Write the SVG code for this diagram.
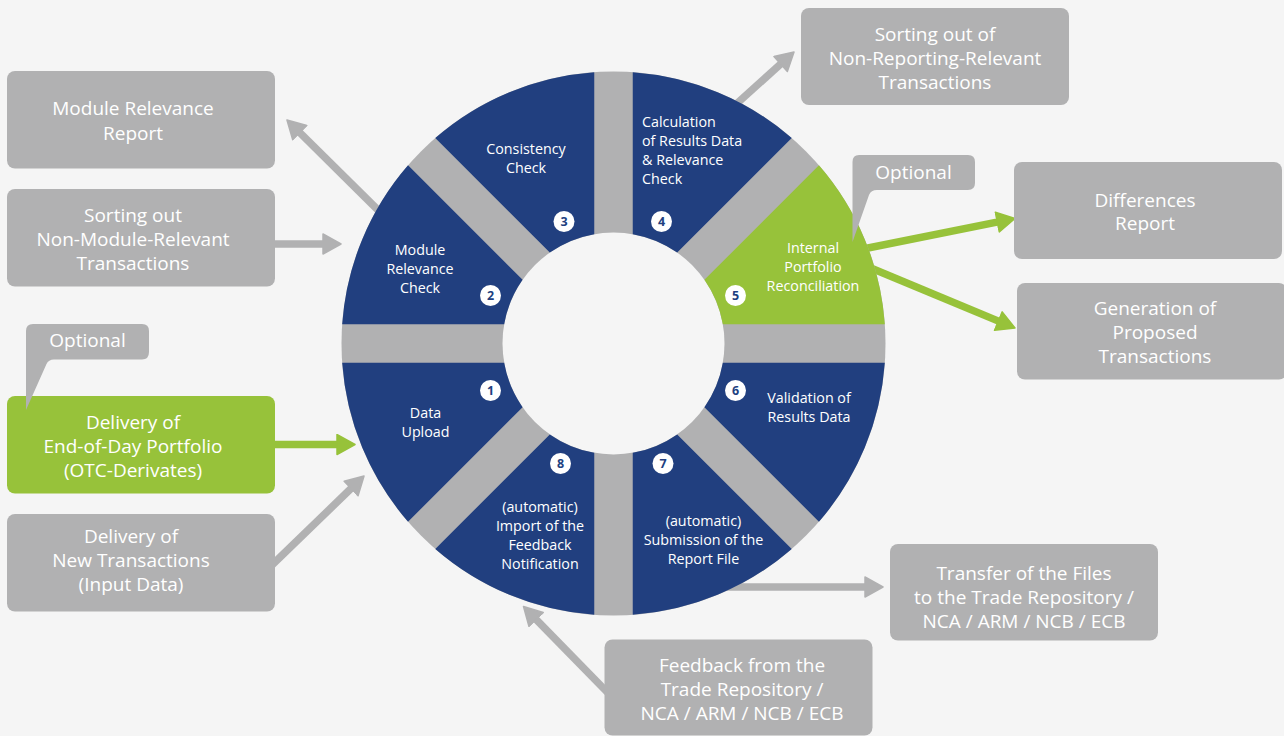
<svg xmlns="http://www.w3.org/2000/svg" width="1284" height="736" viewBox="0 0 1284 736">
<style>
.bg{fill:#f5f5f5}
.box{fill:#b1b1b2}
.gbox{fill:#97c23a}
.seg{fill:#213f7f}
.segg{fill:#97c23a}
.bt{font-family:"Open Sans","Noto Sans",sans-serif;font-size:19px;fill:#ffffff;text-anchor:middle}
.st{font-family:"Open Sans","Noto Sans",sans-serif;font-size:14.3px;fill:#ffffff;text-anchor:middle}
.stl{text-anchor:start}
.badge{fill:#ffffff}
.num{font-family:"Open Sans","Noto Sans",sans-serif;font-size:12.5px;font-weight:bold;fill:#213f7f;text-anchor:middle}
.ln{stroke:#b1b1b2;stroke-width:7.5;fill:none}
.gln{stroke:#97c23a;stroke-width:7.5;fill:none}
</style>
<defs>
<path id="segshape" d="M109.32,-19.25 L271.32,-19.25 A272,272 0 0 0 205.46,-178.24 L90.91,-63.69 A111,111 0 0 1 109.32,-19.25 Z"/>
<marker id="ah" viewBox="-1 -1 20 22" refX="6" refY="10" markerWidth="20" markerHeight="22" markerUnits="userSpaceOnUse" orient="auto">
<path d="M0,0 L18,10 L0,20 Z" fill="#b1b1b2" stroke="#b1b1b2" stroke-width="1.5" stroke-linejoin="round"/>
</marker>
<marker id="ahg" viewBox="-1 -1 20 22" refX="6" refY="10" markerWidth="20" markerHeight="22" markerUnits="userSpaceOnUse" orient="auto">
<path d="M0,0 L18,10 L0,20 Z" fill="#97c23a" stroke="#97c23a" stroke-width="1.5" stroke-linejoin="round"/>
</marker>
</defs>
<rect class="bg" x="0" y="0" width="1284" height="736"/>

<g id="connectors">
<line class="ln" x1="382" y1="214" x2="295.5" y2="128.4" marker-end="url(#ah)"/>
<line class="ln" x1="270" y1="244" x2="329" y2="244" marker-end="url(#ah)"/>
<line class="gln" x1="270" y1="444.5" x2="343" y2="444.5" marker-end="url(#ahg)"/>
<line class="ln" x1="272" y1="565" x2="355.4" y2="484.3" marker-end="url(#ah)"/>
<line class="ln" x1="733" y1="107" x2="785.1" y2="60" marker-end="url(#ah)"/>
<line class="gln" x1="858" y1="250" x2="1003.2" y2="220.9" marker-end="url(#ahg)"/>
<line class="gln" x1="860" y1="263.5" x2="1003.9" y2="323.4" marker-end="url(#ahg)"/>
<line class="ln" x1="720" y1="587" x2="871" y2="587" marker-end="url(#ah)"/>
<line class="ln" x1="610" y1="695" x2="531.9" y2="615.1" marker-end="url(#ah)"/>
</g>

<g id="wheel-base">
<circle cx="613.5" cy="343.5" r="272" fill="#b1b1b2"/>
<circle class="bg" cx="613.5" cy="343.5" r="111"/>
</g>

<g id="step5">
<use href="#segshape" class="segg" transform="translate(613.5,343.5)"/>
<text class="st" x="813" y="253">Internal</text>
<text class="st" x="813" y="272">Portfolio</text>
<text class="st" x="813" y="291">Reconciliation</text>
<circle class="badge" cx="735.5" cy="295.5" r="10.5"/>
<text class="num" x="735.5" y="299.8">5</text>
</g>

<g id="step4">
<use href="#segshape" class="seg" transform="translate(613.5,343.5) rotate(-45)"/>
<text class="st stl" x="642" y="127">Calculation</text>
<text class="st stl" x="642" y="146">of Results Data</text>
<text class="st stl" x="642" y="165">&amp; Relevance</text>
<text class="st stl" x="642" y="184">Check</text>
<circle class="badge" cx="661.5" cy="221.5" r="10.5"/>
<text class="num" x="661.5" y="225.8">4</text>
</g>

<g id="step3">
<use href="#segshape" class="seg" transform="translate(613.5,343.5) rotate(-90)"/>
<text class="st" x="526" y="154">Consistency</text>
<text class="st" x="526" y="173">Check</text>
<circle class="badge" cx="564" cy="221.5" r="10.5"/>
<text class="num" x="564" y="225.8">3</text>
</g>

<g id="step2">
<use href="#segshape" class="seg" transform="translate(613.5,343.5) rotate(-135)"/>
<text class="st" x="420" y="255">Module</text>
<text class="st" x="420" y="274">Relevance</text>
<text class="st" x="420" y="293">Check</text>
<circle class="badge" cx="490.5" cy="295.5" r="10.5"/>
<text class="num" x="490.5" y="299.8">2</text>
</g>

<g id="step1">
<use href="#segshape" class="seg" transform="translate(613.5,343.5) rotate(180)"/>
<text class="st" x="425.5" y="418">Data</text>
<text class="st" x="425.5" y="437">Upload</text>
<circle class="badge" cx="490.5" cy="390.5" r="10.5"/>
<text class="num" x="490.5" y="394.8">1</text>
</g>

<g id="step8">
<use href="#segshape" class="seg" transform="translate(613.5,343.5) rotate(135)"/>
<text class="st" x="540" y="512">(automatic)</text>
<text class="st" x="540" y="531">Import of the</text>
<text class="st" x="540" y="550">Feedback</text>
<text class="st" x="540" y="569">Notification</text>
<circle class="badge" cx="560.5" cy="463.5" r="10.5"/>
<text class="num" x="560.5" y="467.8">8</text>
</g>

<g id="step7">
<use href="#segshape" class="seg" transform="translate(613.5,343.5) rotate(90)"/>
<text class="st" x="703.5" y="526">(automatic)</text>
<text class="st" x="703.5" y="545">Submission of the</text>
<text class="st" x="703.5" y="564">Report File</text>
<circle class="badge" cx="663" cy="463.5" r="10.5"/>
<text class="num" x="663" y="467.8">7</text>
</g>

<g id="step6">
<use href="#segshape" class="seg" transform="translate(613.5,343.5) rotate(45)"/>
<text class="st" x="809" y="403">Validation of</text>
<text class="st" x="809" y="422">Results Data</text>
<circle class="badge" cx="735.5" cy="390.5" r="10.5"/>
<text class="num" x="735.5" y="394.8">6</text>
</g>

<g id="module-relevance-report">
<rect class="box" x="7" y="71" width="268" height="97.5" rx="8"/>
<text class="bt" x="133" y="115">Module Relevance</text>
<text class="bt" x="133" y="140">Report</text>
</g>

<g id="sorting-non-module">
<rect class="box" x="7" y="189" width="268" height="97.5" rx="8"/>
<text class="bt" x="133" y="222">Sorting out</text>
<text class="bt" x="133" y="246">Non-Module-Relevant</text>
<text class="bt" x="133" y="270">Transactions</text>
</g>

<g id="delivery-eod">
<rect class="gbox" x="7" y="396" width="268" height="97.5" rx="8"/>
<text class="bt" x="133" y="429">Delivery of</text>
<text class="bt" x="133" y="453">End-of-Day Portfolio</text>
<text class="bt" x="133" y="477">(OTC-Derivates)</text>
</g>

<g id="optional-left">
<path class="box" d="M33,324 H142 Q149,324 149,331 V352 Q149,359.5 142,359.5 H54 Q48.5,359.5 46.5,364 L26,410 V331 Q26,324 33,324 Z"/>
<text class="bt" x="87.5" y="347">Optional</text>
</g>

<g id="delivery-new">
<rect class="box" x="7" y="514" width="268" height="97.5" rx="8"/>
<text class="bt" x="131" y="543">Delivery of</text>
<text class="bt" x="131" y="567">New Transactions</text>
<text class="bt" x="131" y="591">(Input Data)</text>
</g>

<g id="sorting-non-reporting">
<rect class="box" x="801" y="8" width="268" height="97" rx="8"/>
<text class="bt" x="935" y="41">Sorting out of</text>
<text class="bt" x="935" y="65">Non-Reporting-Relevant</text>
<text class="bt" x="935" y="88.5">Transactions</text>
</g>

<g id="optional-right">
<path class="box" d="M859,155 H968 Q975,155 975,162 V183 Q975,190 968,190 H877 Q871,190 869,195 L852.5,242 V162 Q852.5,155 859,155 Z"/>
<text class="bt" x="913.5" y="178.5">Optional</text>
</g>

<g id="differences-report">
<rect class="box" x="1014" y="162" width="268" height="97" rx="8"/>
<text class="bt" x="1145" y="206.5">Differences</text>
<text class="bt" x="1145" y="230">Report</text>
</g>

<g id="generation-proposed">
<rect class="box" x="1017" y="283" width="270" height="96.5" rx="8"/>
<text class="bt" x="1155" y="315">Generation of</text>
<text class="bt" x="1155" y="338.5">Proposed</text>
<text class="bt" x="1155" y="362.5">Transactions</text>
</g>

<g id="transfer-files">
<rect class="box" x="890" y="544" width="268" height="96.5" rx="8"/>
<text class="bt" x="1024" y="580">Transfer of the Files</text>
<text class="bt" x="1024" y="604">to the Trade Repository /</text>
<text class="bt" x="1024" y="627.5">NCA / ARM / NCB / ECB</text>
</g>

<g id="feedback">
<rect class="box" x="604.5" y="639.5" width="268" height="96" rx="8"/>
<text class="bt" x="742" y="671.5">Feedback from the</text>
<text class="bt" x="742" y="695.5">Trade Repository /</text>
<text class="bt" x="742" y="719.5">NCA / ARM / NCB / ECB</text>
</g>
</svg>
